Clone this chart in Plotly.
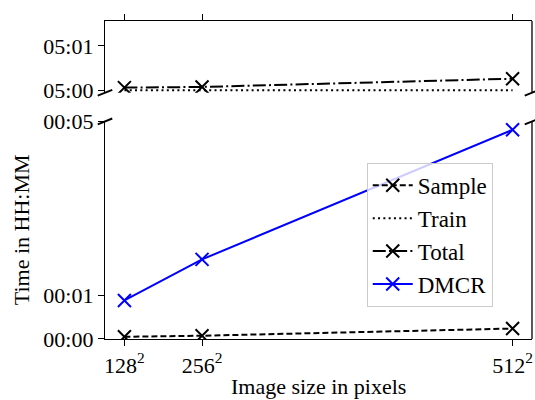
import plotly.graph_objects as go

# Data (times in minutes)
sizes = [128, 256, 512]
pixels = [s * s for s in sizes]
tick_labels = ["128<sup>2</sup>", "256<sup>2</sup>", "512<sup>2</sup>"]
sample_min = [0.05, 0.075, 0.24]
train_min = [300.0, 300.0, 300.0]
total_min = [300.06, 300.075, 300.26]
dmcr_min = [0.886, 1.83, 4.81]

top_ticks = [300, 301]
top_labels = ["05:00", "05:01"]
bottom_ticks = [0, 1, 5]
bottom_labels = ["00:00", "00:01", "00:05"]

FONT = "Liberation Serif"
FS = 22
LW = 2

fig = go.Figure()


def mk(color):
    return dict(symbol="x-thin", size=13, color=color, line=dict(width=2, color=color))


fig.add_trace(go.Scatter(x=pixels, y=sample_min, name="Sample", mode="lines+markers",
                         line=dict(color="black", width=LW, dash="6px,3px"),
                         marker=mk("black"), xaxis="x", yaxis="y"))
fig.add_trace(go.Scatter(x=pixels, y=train_min, name="Train", mode="lines",
                         line=dict(color="black", width=LW, dash="2px,3.3px"),
                         xaxis="x2", yaxis="y2"))
fig.add_trace(go.Scatter(x=pixels, y=total_min, name="Total", mode="lines+markers",
                         line=dict(color="black", width=LW, dash="13px,3.2px,2px,3.2px"),
                         marker=mk("black"), xaxis="x2", yaxis="y2"))
fig.add_trace(go.Scatter(x=pixels, y=dmcr_min, name="DMCR", mode="lines+markers",
                         line=dict(color="blue", width=LW),
                         marker=mk("blue"), xaxis="x", yaxis="y"))

xr = [4096, 274432]
axis_common = dict(showgrid=False, zeroline=False, linecolor="black", linewidth=1.3,
                   ticks="outside", ticklen=6, tickwidth=1.3, tickcolor="black",
                   automargin=False,
                   tickfont=dict(family=FONT, size=FS, color="black"))

fig.update_layout(
    width=535, height=400,
    margin=dict(l=105, r=3, t=21, b=61),
    plot_bgcolor="white", paper_bgcolor="white",
    font=dict(family=FONT, size=FS, color="black"),
    showlegend=True,
    legend=dict(x=0.613, y=0.554, xanchor="left", yanchor="top",
                bgcolor="rgba(255,255,255,0.8)", bordercolor="#cccccc", borderwidth=1,
                font=dict(family=FONT, size=23, color="black"), traceorder="normal",
                itemwidth=40),
    xaxis=dict(domain=[0, 1], range=xr, anchor="y", tickvals=pixels, ticktext=tick_labels,
               showline=True, **axis_common),
    yaxis=dict(domain=[0, 0.684], range=[0, 5], tickvals=bottom_ticks, ticktext=bottom_labels,
               showline=True, **axis_common),
    xaxis2=dict(domain=[0, 1], range=xr, anchor="y2", side="top", tickvals=pixels,
                showticklabels=False, showline=True, **axis_common),
    yaxis2=dict(domain=[0.7745, 1], range=[299.945, 301.56], tickvals=top_ticks, ticktext=top_labels,
                showline=True, **axis_common),
)

# right spines
fig.add_shape(type="line", xref="x domain", yref="y domain", x0=1, x1=1, y0=0, y1=1,
              line=dict(color="black", width=1.3))
fig.add_shape(type="line", xref="x2 domain", yref="y2 domain", x0=1, x1=1, y0=0, y1=1,
              line=dict(color="black", width=1.3))

# break marks (diagonals)
dx, dy = 0.017, 0.09
for xd in (0, 1):
    fig.add_shape(type="line", xref="x2 domain", yref="y2 domain",
                  x0=xd - dx, x1=xd + dx, y0=-dy * 0.45, y1=dy * 0.45,
                  line=dict(color="black", width=2))
    fig.add_shape(type="line", xref="x domain", yref="y domain",
                  x0=xd - dx, x1=xd + dx, y0=1 - dy * 0.15, y1=1 + dy * 0.15,
                  line=dict(color="black", width=2))

fig.add_annotation(text="Time in HH:MM", xref="paper", yref="paper", x=-0.197, y=0.345,
                   textangle=-90, showarrow=False, xanchor="center", yanchor="middle",
                   font=dict(family=FONT, size=FS, color="black"))
fig.add_annotation(text="Image size in pixels", xref="paper", yref="paper", x=0.5, y=-0.148,
                   showarrow=False, xanchor="center", yanchor="middle",
                   font=dict(family=FONT, size=FS, color="black"))

fig.write_html("out.html", config={"displayModeBar": False},
               post_script="document.body.style.margin='0';")
